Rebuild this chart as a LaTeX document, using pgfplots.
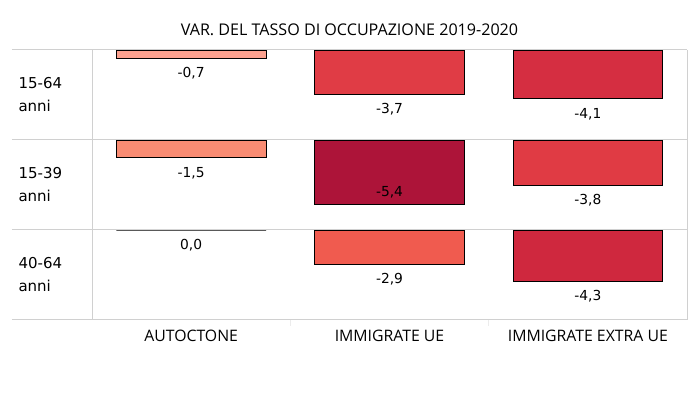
\documentclass[border=0pt]{standalone}
\usepackage{pgfplots}
\pgfplotsset{compat=1.18}
\usepackage{fontspec}
\setmainfont{Open Sans}
\newfontfamily\valfont{DejaVu Sans}
\definecolor{gridc}{HTML}{D0D0D0}
\definecolor{cA}{HTML}{FCA18F}
\definecolor{cB}{HTML}{F98C73}
\definecolor{cC}{HTML}{E03C45}
\definecolor{cD}{HTML}{AD1439}
\definecolor{cE}{HTML}{F05B4F}
\definecolor{cF}{HTML}{D52E41}
\definecolor{cG}{HTML}{E03B44}
\definecolor{cH}{HTML}{CF283E}
\pgfplotsset{
  rowax/.style={
    scale only axis, width=675pt, height=90pt, anchor=south west,
    xmin=-0.4034, xmax=3, ymin=-7.563, ymax=0,
    clip=false,
    axis line style={draw=none},
    xtick=\empty, ytick=\empty,
    major tick length=0pt,
    nodes near coords,
    point meta=y,
    /pgf/number format/.cd, fixed, fixed zerofill, precision=1, use comma, assume math mode=true,
    /pgfplots/.cd,
    every node near coord/.style={font=\valfont\fontsize{13.8}{16}\selectfont, anchor=center, yshift=-15pt, text=black},
  },
  bb/.style={ybar, bar width=0.755, bar shift=0pt, draw=black, line width=0.8pt, fill=#1},
}
\newcommand{\gridframe}{%
  \draw[gridc, line width=1pt] (rel axis cs:0,1) -- (rel axis cs:1,1);
  \draw[gridc, line width=1pt] (rel axis cs:0,0) -- (rel axis cs:1,0);
  \draw[gridc, line width=1pt] (axis cs:0,-7.563) -- (axis cs:0,0);
  \draw[gridc, line width=1pt] (rel axis cs:1,0) -- (rel axis cs:1,1);
}
\begin{document}
\begin{tikzpicture}[x=1pt,y=1pt]
\useasboundingbox (0,0) rectangle (699,399);
\node[font=\fontsize{16.1}{19}\selectfont] at (349.5,369) {VAR. DEL TASSO DI OCCUPAZIONE 2019-2020};
% row 1: 15-64 anni
\begin{axis}[rowax, at={(12pt,259pt)}]
  \gridframe
  \node[anchor=west, align=left, font=\valfont\fontsize{15}{23}\selectfont] at (rel axis cs:0,0.5) [xshift=3pt] {15-64\\anni};
  \addplot[bb=cA] coordinates {(0.5,-0.7)};
  \addplot[bb=cC] coordinates {(1.5,-3.7)};
  \addplot[bb=cF] coordinates {(2.5,-4.1)};
\end{axis}
% row 2: 15-39 anni
\begin{axis}[rowax, at={(12pt,169pt)}]
  \gridframe
  \node[anchor=west, align=left, font=\valfont\fontsize{15}{23}\selectfont] at (rel axis cs:0,0.5) [xshift=3pt] {15-39\\anni};
  \addplot[bb=cB] coordinates {(0.5,-1.5)};
  \addplot[bb=cD, every node near coord/.append style={yshift=27pt}] coordinates {(1.5,-5.4)};
  \addplot[bb=cG] coordinates {(2.5,-3.8)};
\end{axis}
% row 3: 40-64 anni
\begin{axis}[rowax, at={(12pt,79pt)},
  xtick={0.5,1.5,2.5},
  xticklabels={AUTOCTONE, IMMIGRATE UE, IMMIGRATE EXTRA UE},
  xticklabel style={font=\fontsize{15.8}{18}\selectfont, anchor=center, yshift=-16pt}]
  \gridframe
  \draw[gridc!40, line width=1pt] (axis cs:1,-7.563) -- ([yshift=-6pt]axis cs:1,-7.563);
  \draw[gridc!40, line width=1pt] (axis cs:2,-7.563) -- ([yshift=-6pt]axis cs:2,-7.563);
  \node[anchor=west, align=left, font=\valfont\fontsize{15}{23}\selectfont] at (rel axis cs:0,0.5) [xshift=3pt] {40-64\\anni};
  \addplot[bb=white] coordinates {(0.5,0.0)};
  \addplot[bb=cE] coordinates {(1.5,-2.9)};
  \addplot[bb=cH] coordinates {(2.5,-4.3)};
\end{axis}
\end{tikzpicture}
\end{document}
